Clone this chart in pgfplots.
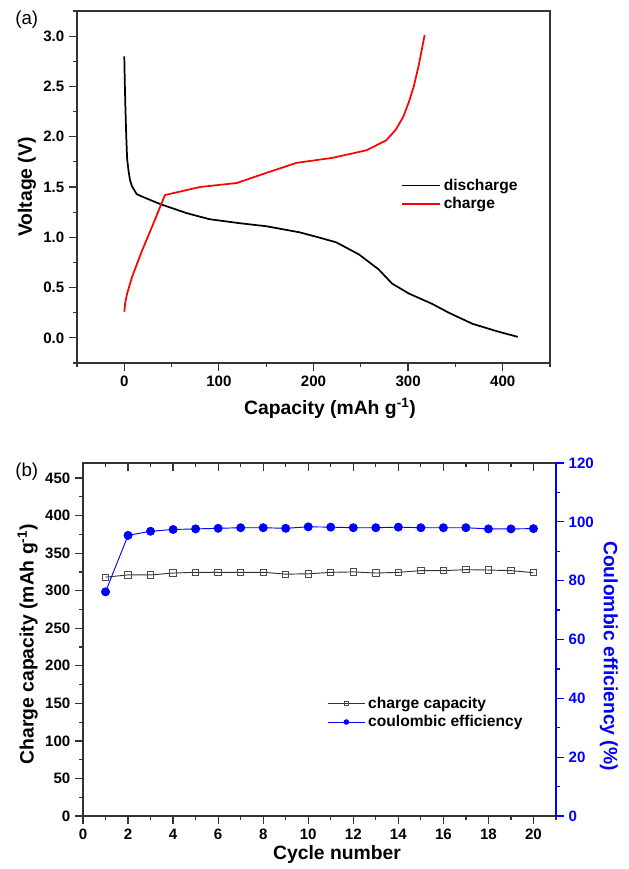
\documentclass[border=0pt]{standalone}
\usepackage{fontspec}
\setmainfont{Liberation Sans}
\usepackage{pgfplots}
\pgfplotsset{compat=1.18}

\definecolor{cblue}{RGB}{0,0,255}

\pgfplotsset{
  origin/.style={
    scale only axis,
    width=354.75pt,
    axis line style={line width=1pt, black!80},
    tick style={line width=0.9pt, black!80},
    tick align=outside,
    major tick length=6pt,
    minor tick length=3pt,
    ticklabel style={font=\fontsize{11.3}{13}\selectfont\bfseries},
    /pgf/number format/assume math mode=true,
    label style={font=\fontsize{14.5}{16}\selectfont\bfseries},
    legend cell align=left,
    legend style={draw=none, fill=none, font=\fontsize{11.7}{13}\selectfont\bfseries,
      row sep=0pt, inner sep=1pt},
  }
}

\begin{document}
\begin{tikzpicture}
\useasboundingbox (0,0) rectangle (471.75pt,-651.75pt);

% (a) voltage profile
\begin{axis}[origin,
  at={(57.75pt,-8.25pt)}, anchor=north west, height=264pt,
  xmin=-50, xmax=450, ymin=-0.25, ymax=3.25,
  xtick={0,100,200,300,400}, minor xtick={-50,50,150,250,350,450},
  ytick={0,0.5,1.0,1.5,2.0,2.5,3.0},
  minor ytick={-0.25,0.25,0.75,1.25,1.75,2.25,2.75,3.25},
  yticklabel style={/pgf/number format/.cd, fixed, fixed zerofill, precision=1},
  xtick pos=left, ytick pos=left,
  xlabel={Capacity (mAh g\textsuperscript{-1})},
  ylabel={Voltage (V)},
  xlabel style={at={(axis description cs:0.535,-0.128)}, anchor=center},
  ylabel style={at={(axis description cs:-0.106,0.5)}, anchor=center},
  legend style={at={(0.681,0.535)}, anchor=north west},
  legend image code/.code={\draw[#1] (0pt,0pt) -- (29pt,0pt);},
]
\addplot[black, line width=1.3pt] coordinates {
  (0,2.80) (0.5,2.55) (1,2.35) (2,2.02) (3,1.78) (4.5,1.66) (6,1.57) (8,1.51)
  (13,1.43) (20,1.40) (38,1.33) (66,1.24) (90,1.18) (122,1.14) (150,1.11)
  (185,1.05) (205,1.00) (224,0.95) (248,0.83) (269,0.68) (283,0.54) (301,0.44)
  (325,0.34) (343,0.25) (368,0.14) (396,0.06) (416,0.01)
};
\addplot[red, line width=1.3pt] coordinates {
  (0,0.26) (1,0.35) (3,0.44) (8,0.60) (18,0.85) (30,1.12) (43,1.42) (80,1.50)
  (119,1.54) (150,1.64) (182,1.74) (220,1.79) (256,1.865) (277,1.965)
  (287,2.07) (295,2.20) (301,2.35) (306,2.50) (311,2.70) (317.5,3.01)
};
\legend{discharge, charge}
\end{axis}

% (b) cycling: left axis
\begin{axis}[origin,
  at={(62.25pt,-347.25pt)}, anchor=north west, height=264.75pt,
  xmin=0, xmax=21, ymin=0, ymax=470,
  xtick={0,2,...,20}, minor xtick={1,3,...,21},
  ytick={0,50,...,450}, minor ytick={25,75,...,475},
  xtick pos=left, ytick pos=left,
  xlabel={Cycle number},
  ylabel={Charge capacity (mAh g\textsuperscript{-1})},
  xlabel style={at={(axis description cs:0.537,-0.11)}, anchor=center},
  ylabel style={at={(axis description cs:-0.117,0.487)}, anchor=center},
  legend style={at={(0.513,0.35)}, anchor=north west},
  legend image code/.code={\draw[mark repeat=2,mark phase=2,#1,mark size=1.7pt]
    plot coordinates {(0pt,0pt) (14pt,0pt) (28pt,0pt)};},
]
\addplot[black!80, line width=0.7pt, mark=square, mark size=2.4pt,
  mark options={draw=black!70, fill=white, line width=0.7pt}] coordinates {
  (1,318) (2,321) (3,321) (4,323.5) (5,324.5) (6,324.5) (7,324.5) (8,324.5)
  (9,322) (10,322.5) (11,324.4) (12,325) (13,323.5) (14,324.4) (15,326.7)
  (16,326.7) (17,328) (18,327.5) (19,326.7) (20,324)
};
\addlegendentry{charge capacity}
\addlegendimage{cblue, line width=0.7pt, mark=*, mark options={fill=cblue, draw=cblue}}
\addlegendentry{coulombic efficiency}
\end{axis}

% (b) top inward ticks
\begin{axis}[origin,
  at={(62.25pt,-347.25pt)}, anchor=north west, height=264.75pt,
  xmin=0, xmax=21, ymin=0, ymax=1,
  axis x line*=top, axis y line=none, tick align=inside,
  xtick={0,2,...,20}, minor xtick={1,3,...,21}, xticklabels={},
]
\end{axis}

% (b) right axis
\begin{axis}[origin,
  at={(62.25pt,-347.25pt)}, anchor=north west, height=264.75pt,
  xmin=0, xmax=21, ymin=0, ymax=120,
  axis y line*=right, axis x line=none,
  y axis line style={cblue, line width=1pt},
  ytick={0,20,...,120}, minor ytick={10,30,...,110},
  ytick style={cblue, line width=0.9pt},
  yticklabel style={cblue},
  ylabel={Coulombic efficiency (\%)},
  ylabel style={cblue, at={(axis description cs:1.112,0.453)}, anchor=center, rotate=180},
]
\addplot[cblue, line width=0.7pt, mark=*, mark size=3pt,
  mark options={fill=cblue, draw=cblue}] coordinates {
  (1,76.2) (2,95.4) (3,96.8) (4,97.4) (5,97.6) (6,97.8) (7,98.0) (8,98.0)
  (9,97.8) (10,98.3) (11,98.2) (12,98.0) (13,98.0) (14,98.2) (15,98.0)
  (16,98.0) (17,98.0) (18,97.6) (19,97.6) (20,97.7)
};
\end{axis}

\node[anchor=west, font=\fontsize{14}{16}\selectfont] at (8pt,-15pt) {(a)};
\node[anchor=west, font=\fontsize{14}{16}\selectfont] at (8pt,-354pt) {(b)};
\end{tikzpicture}
\end{document}
